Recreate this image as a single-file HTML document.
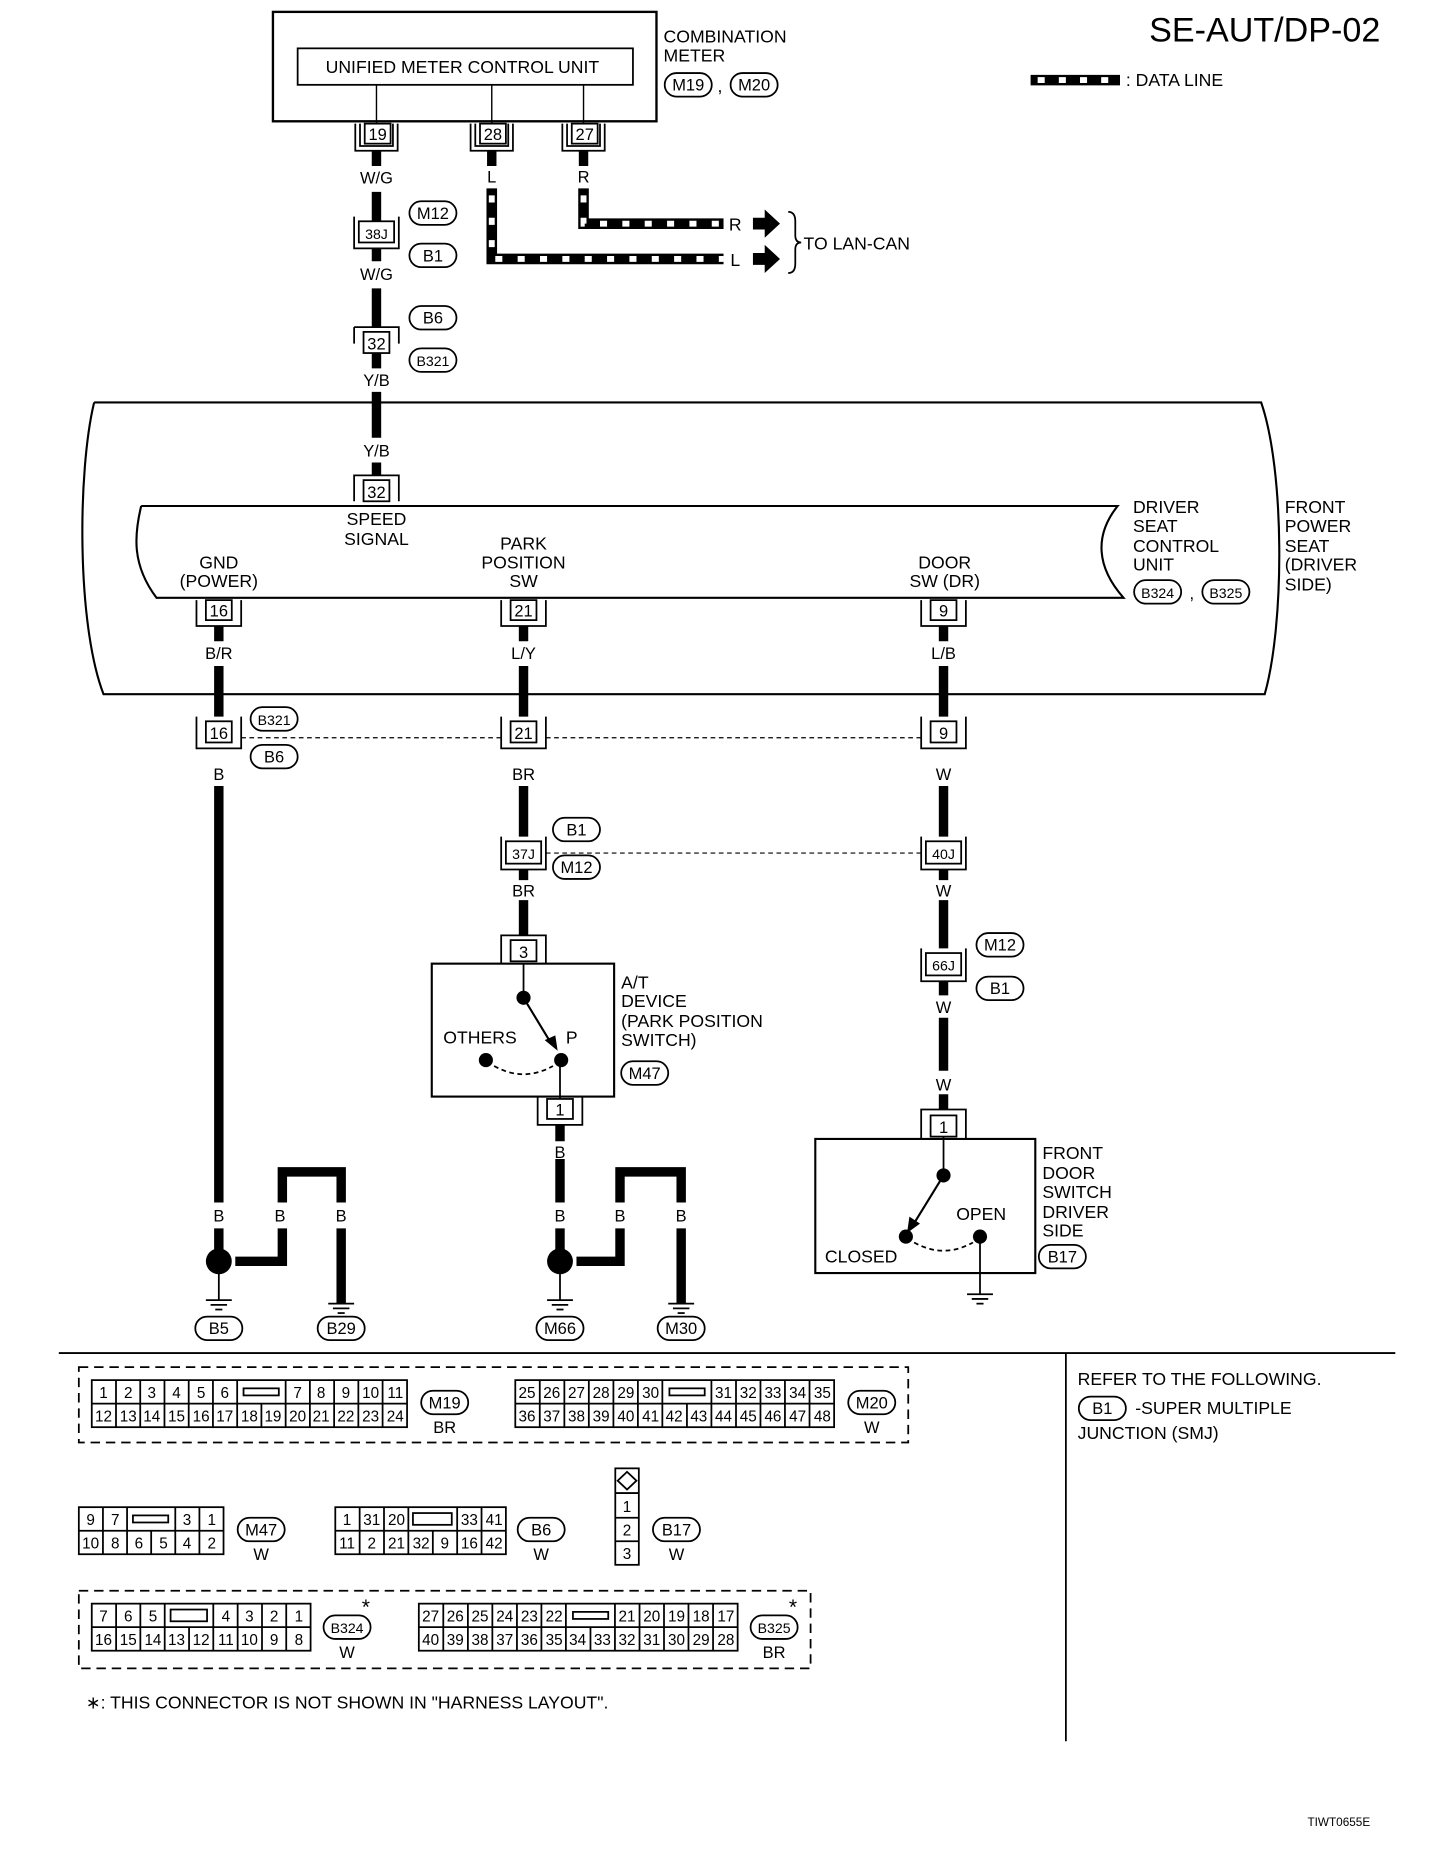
<!DOCTYPE html>
<html><head><meta charset="utf-8"><style>
html,body{margin:0;padding:0;background:#fff}
svg{display:block}
text{font-family:"Liberation Sans",sans-serif;fill:#000}
</style></head><body>
<svg width="1440" height="1852" viewBox="0 0 1224 1574" xmlns="http://www.w3.org/2000/svg">
<defs>
<g id="gnd"><line x1="-11" y1="0" x2="11" y2="0" stroke="#000" stroke-width="1.5"/><line x1="-7" y1="4" x2="7" y2="4" stroke="#000" stroke-width="1.5"/><line x1="-3" y1="8" x2="3" y2="8" stroke="#000" stroke-width="1.5"/></g>
</defs>
<g font-size="15" text-anchor="middle">
<text x="1075" y="35" font-size="29">SE-AUT/DP-02</text>
<line x1="876" y1="68" x2="952" y2="68" stroke="#000" stroke-width="9"/>
<line x1="882" y1="68" x2="952" y2="68" stroke="#fff" stroke-width="5" stroke-dasharray="6 12"/>
<text x="957" y="73" text-anchor="start" font-size="15">: DATA LINE</text>

<rect x="232" y="10" width="326" height="93" fill="none" stroke="#000" stroke-width="2"/>
<rect x="253" y="41" width="285" height="31" fill="none" stroke="#000" stroke-width="1.5"/>
<text x="393" y="62" font-size="15">UNIFIED METER CONTROL UNIT</text>
<line x1="320" y1="72" x2="320" y2="105" stroke="#000" stroke-width="1.2"/>
<line x1="418" y1="72" x2="418" y2="105" stroke="#000" stroke-width="1.2"/>
<line x1="496" y1="72" x2="496" y2="105" stroke="#000" stroke-width="1.2"/>
<text x="564" y="36" text-anchor="start">COMBINATION</text>
<text x="564" y="52" text-anchor="start">METER</text>
<rect x="565" y="62" width="40" height="20" rx="10" fill="none" stroke="#000" stroke-width="1.5"/><text x="585" y="77" font-size="14">M19</text>
<text x="612" y="78">,</text>
<rect x="621" y="62" width="40" height="20" rx="10" fill="none" stroke="#000" stroke-width="1.5"/><text x="641" y="77" font-size="14">M20</text>

<g fill="none" stroke="#000" stroke-width="1.5">
<rect x="310" y="105" width="22" height="17"/><path d="M302 105V128H338V105M306 105V124H334V105"/>
<rect x="408" y="105" width="22" height="17"/><path d="M400 105V128H436V105M404 105V124H432V105"/>
<rect x="486" y="105" width="22" height="17"/><path d="M478 105V128H514V105M482 105V124H510V105"/>
<rect x="305" y="188" width="30" height="18"/><path d="M301 184V211H339V184"/>
<rect x="309" y="282" width="22" height="18"/><path d="M301 278H339V292M301 278V292"/>
<rect x="309" y="408" width="22" height="18"/><path d="M301 426V404H339V426"/>
<rect x="175" y="510" width="22" height="17"/><path d="M167 510V532H205V510"/>
<rect x="434" y="510" width="22" height="17"/><path d="M426 510V532H464V510"/>
<rect x="791" y="510" width="22" height="17"/><path d="M783 510V532H821V510"/>
<rect x="175" y="613" width="22" height="18"/><path d="M167 609V636H205V609"/>
<rect x="434" y="613" width="22" height="18"/><path d="M426 609V636H464V609"/>
<rect x="791" y="613" width="22" height="18"/><path d="M783 609V636H821V609"/>
<rect x="430" y="715" width="30" height="19"/><path d="M426 711V739H464V711"/>
<rect x="787" y="715" width="30" height="19"/><path d="M783 711V739H821V711"/>
<rect x="434" y="799" width="22" height="18"/><path d="M426 819V795H464V819"/>
<rect x="787" y="810" width="30" height="19"/><path d="M783 806V834H821V806"/>
<rect x="465" y="934" width="22" height="17"/><path d="M457 932V956H495V932"/>
<rect x="791" y="948" width="22" height="18"/><path d="M783 968V943H821V968"/>
</g>
<g font-size="14">
<text x="321" y="119">19</text><text x="419" y="119">28</text><text x="497" y="119">27</text>
<text x="320" y="203" font-size="12">38J</text>
<text x="320" y="297">32</text>
<text x="320" y="423">32</text>
<text x="186" y="524">16</text><text x="445" y="524">21</text><text x="802" y="524">9</text>
<text x="186" y="628">16</text><text x="445" y="628">21</text><text x="802" y="628">9</text>
<text x="445" y="730" font-size="12">37J</text><text x="802" y="730" font-size="12">40J</text>
<text x="445" y="814">3</text>
<text x="802" y="825" font-size="12">66J</text>
<text x="476" y="948">1</text>
<text x="802" y="963">1</text>
</g>

<g stroke="#000" stroke-width="8" fill="none">
<path d="M320 128V141M320 163V188M320 211V222M320 245V278M320 300V313M320 333V372M320 393V404"/>
<path d="M418 128V141M496 128V141"/>
<path d="M186 532V545M186 566V609M186 668V1022M186 1044V1062"/>
<path d="M445 532V545M445 566V609M445 668V711M445 739V748M445 765V795"/>
<path d="M802 532V545M802 566V609M802 668V711M802 739V748M802 765V806M802 834V846M802 865V910M802 930V943"/>
<path d="M476 956V970M476 985V1022M476 1044V1062"/>
<path d="M200 1072H240V1044M240 1022V996H290V1022M290 1044V1108"/>
<path d="M490 1072H527V1044M527 1022V996H579V1022M579 1044V1108"/>
</g>
<path d="M418 160V220H615M496 160V190H615" stroke="#000" stroke-width="9" fill="none"/>
<path d="M418 166V220H615M496 166V190H615" stroke="#fff" stroke-width="5" fill="none" stroke-dasharray="6 13"/>
<polygon points="640,185 650,185 650,178 663,190 650,202 650,195 640,195"/>
<polygon points="640,215 650,215 650,208 663,220 650,232 650,225 640,225"/>
<text x="625" y="196">R</text><text x="625" y="226">L</text>
<path d="M670 180Q676 180 676 188V200Q676 206 681 206Q676 206 676 212V224Q676 232 670 232" fill="none" stroke="#000" stroke-width="1.5"/>
<text x="683" y="212" text-anchor="start">TO LAN-CAN</text>

<g font-size="14">
<text x="320" y="156">W/G</text><text x="418" y="155">L</text><text x="496" y="155">R</text>
<text x="320" y="238">W/G</text><text x="320" y="328">Y/B</text><text x="320" y="388">Y/B</text>
<text x="186" y="560">B/R</text><text x="445" y="560">L/Y</text><text x="802" y="560">L/B</text>
<text x="186" y="663">B</text><text x="445" y="663">BR</text><text x="802" y="663">W</text>
<text x="445" y="762">BR</text><text x="802" y="762">W</text>
<text x="802" y="861">W</text><text x="802" y="927">W</text>
<text x="476" y="984">B</text>
<text x="186" y="1038">B</text><text x="238" y="1038">B</text><text x="290" y="1038">B</text>
<text x="476" y="1038">B</text><text x="527" y="1038">B</text><text x="579" y="1038">B</text>
</g>

<g fill="none" stroke="#000" stroke-width="1.5">
<rect x="348" y="171" width="40" height="20" rx="10"/><rect x="348" y="207" width="40" height="20" rx="10"/>
<rect x="348" y="260" width="40" height="20" rx="10"/><rect x="348" y="296" width="40" height="20" rx="10"/>
<rect x="964" y="493" width="40" height="20" rx="10"/><rect x="1022" y="493" width="40" height="20" rx="10"/>
<rect x="213" y="601" width="40" height="20" rx="10"/><rect x="213" y="633" width="40" height="20" rx="10"/>
<rect x="470" y="695" width="40" height="20" rx="10"/><rect x="470" y="727" width="40" height="20" rx="10"/>
<rect x="830" y="793" width="40" height="20" rx="10"/><rect x="830" y="830" width="40" height="20" rx="10"/>
<rect x="528" y="902" width="40" height="20" rx="10"/>
<rect x="883" y="1058" width="40" height="20" rx="10"/>
<rect x="166" y="1119" width="40" height="20" rx="10"/><rect x="270" y="1119" width="40" height="20" rx="10"/>
<rect x="456" y="1119" width="40" height="20" rx="10"/><rect x="559" y="1119" width="40" height="20" rx="10"/>
</g>
<g font-size="14">
<text x="368" y="186">M12</text><text x="368" y="222">B1</text>
<text x="368" y="275">B6</text><text x="368" y="311" font-size="12">B321</text>
<text x="984" y="508" font-size="12">B324</text><text x="1013" y="509">,</text><text x="1042" y="508" font-size="12">B325</text>
<text x="233" y="616" font-size="12">B321</text><text x="233" y="648">B6</text>
<text x="490" y="710">B1</text><text x="490" y="742">M12</text>
<text x="850" y="808">M12</text><text x="850" y="845">B1</text>
<text x="548" y="917">M47</text>
<text x="903" y="1073">B17</text>
<text x="186" y="1134">B5</text><text x="290" y="1134">B29</text>
<text x="476" y="1134">M66</text><text x="579" y="1134">M30</text>
</g>

<path d="M80 342H1072C1092 400 1092 530 1075 590H88C65 530 66 400 80 342" fill="none" stroke="#000" stroke-width="1.8"/>
<path d="M120 430H950C930 455 932 482 955 508H133C112 480 114 455 120 430" fill="none" stroke="#000" stroke-width="1.8"/>
<text x="320" y="446">SPEED</text><text x="320" y="463">SIGNAL</text>
<text x="186" y="483">GND</text><text x="186" y="499">(POWER)</text>
<text x="445" y="467">PARK</text><text x="445" y="483">POSITION</text><text x="445" y="499">SW</text>
<text x="803" y="483">DOOR</text><text x="803" y="499">SW (DR)</text>
<g text-anchor="start">
<text x="963" y="436">DRIVER</text><text x="963" y="452">SEAT</text><text x="963" y="469">CONTROL</text><text x="963" y="485">UNIT</text>
<text x="1092" y="436">FRONT</text><text x="1092" y="452">POWER</text><text x="1092" y="469">SEAT</text><text x="1092" y="485">(DRIVER</text><text x="1092" y="502"> SIDE)</text>
</g>
<path d="M205 627H426M464 627H783M464 725H783" stroke="#000" stroke-width="1" stroke-dasharray="4 3" fill="none"/>

<rect x="367" y="819" width="155" height="113" fill="none" stroke="#000" stroke-width="1.8"/>
<line x1="445" y1="819" x2="445" y2="848" stroke="#000" stroke-width="1.5"/>
<circle cx="445" cy="848" r="6"/>
<line x1="445" y1="848" x2="468" y2="886" stroke="#000" stroke-width="1.8"/>
<polygon points="463,884 474,893 472,880"/>
<circle cx="477" cy="901" r="6"/><circle cx="413" cy="901" r="6"/>
<path d="M420 906Q445 920 470 906" fill="none" stroke="#000" stroke-width="1.5" stroke-dasharray="4 3"/>
<line x1="476" y1="901" x2="476" y2="934" stroke="#000" stroke-width="1.5"/>
<text x="408" y="887">OTHERS</text><text x="486" y="887">P</text>
<g text-anchor="start"><text x="528" y="840">A/T</text><text x="528" y="856">DEVICE</text><text x="528" y="873">(PARK POSITION</text><text x="528" y="889"> SWITCH)</text></g>

<rect x="693" y="968" width="187" height="114" fill="none" stroke="#000" stroke-width="1.8"/>
<line x1="802" y1="966" x2="802" y2="999" stroke="#000" stroke-width="1.5"/>
<circle cx="802" cy="999" r="6"/>
<line x1="802" y1="999" x2="778" y2="1038" stroke="#000" stroke-width="1.8"/>
<polygon points="773,1034 771,1048 782,1040"/>
<circle cx="770" cy="1051" r="6"/><circle cx="833" cy="1051" r="6"/>
<path d="M777 1056Q802 1070 827 1056" fill="none" stroke="#000" stroke-width="1.5" stroke-dasharray="4 3"/>
<line x1="833" y1="1051" x2="833" y2="1100" stroke="#000" stroke-width="1.5"/>
<use href="#gnd" x="833" y="1100"/>
<text x="834" y="1037">OPEN</text>
<text x="732" y="1073">CLOSED</text>
<g text-anchor="start"><text x="886" y="985">FRONT</text><text x="886" y="1002">DOOR</text><text x="886" y="1018">SWITCH</text><text x="886" y="1035">DRIVER</text><text x="886" y="1051">SIDE</text></g>

<circle cx="186" cy="1072" r="11"/><circle cx="476" cy="1072" r="11"/>
<line x1="186" y1="1072" x2="186" y2="1105" stroke="#000" stroke-width="1.5"/>
<line x1="476" y1="1072" x2="476" y2="1105" stroke="#000" stroke-width="1.5"/>
<use href="#gnd" x="186" y="1105"/><use href="#gnd" x="290" y="1108"/>
<use href="#gnd" x="476" y="1105"/><use href="#gnd" x="579" y="1108"/>

<line x1="50" y1="1150" x2="1186" y2="1150" stroke="#000" stroke-width="1.5"/>
<line x1="906" y1="1150" x2="906" y2="1480" stroke="#000" stroke-width="1.5"/>
<text x="916" y="1177" text-anchor="start">REFER TO THE FOLLOWING.</text>
<rect x="917" y="1187" width="40" height="20" rx="10" fill="none" stroke="#000" stroke-width="1.5"/><text x="937" y="1202" font-size="14">B1</text>
<text x="965" y="1202" text-anchor="start">-SUPER MULTIPLE</text>
<text x="916" y="1223" text-anchor="start">JUNCTION (SMJ)</text>

<rect x="67" y="1162" width="705" height="64" fill="none" stroke="#000" stroke-width="1.5" stroke-dasharray="8 5"/>
<rect x="67" y="1352" width="622" height="66" fill="none" stroke="#000" stroke-width="1.5" stroke-dasharray="8 5"/>
<g fill="none" stroke="#000" stroke-width="1.5">
<rect x="78" y="1173" width="268" height="40"/><line x1="78" y1="1193" x2="346" y2="1193"/>
<path d="M98.6 1173V1213M119.2 1173V1213M139.8 1173V1213M160.4 1173V1213M181 1173V1213M201.6 1173V1213M222.2 1193V1213M242.8 1173V1213M263.4 1173V1213M284 1173V1213M304.6 1173V1213M325.2 1173V1213"/>
<rect x="207" y="1180" width="30" height="6"/>
<rect x="438" y="1173" width="271" height="40"/><line x1="438" y1="1193" x2="709" y2="1193"/>
<path d="M458.8 1173V1213M479.7 1173V1213M500.5 1173V1213M521.4 1173V1213M542.2 1173V1213M563 1173V1213M583.9 1193V1213M604.7 1173V1213M625.6 1173V1213M646.4 1173V1213M667.2 1173V1213M688.1 1173V1213"/>
<rect x="569" y="1180" width="30" height="6"/>
<rect x="67" y="1281" width="123" height="40"/><line x1="67" y1="1301" x2="190" y2="1301"/>
<path d="M87.5 1281V1321M108 1281V1321M128.5 1301V1321M149 1281V1321M169.5 1281V1321"/>
<rect x="113" y="1288" width="30" height="6"/>
<rect x="285" y="1281" width="145" height="40"/><line x1="285" y1="1301" x2="430" y2="1301"/>
<path d="M305.7 1281V1321M326.4 1281V1321M347.1 1281V1321M367.9 1301V1321M388.6 1281V1321M409.3 1281V1321"/>
<rect x="351" y="1286" width="33" height="10"/>
<rect x="523" y="1248" width="20" height="82"/><path d="M523 1269H543M523 1290H543M523 1310H543"/>
<path d="M533 1251L541 1258.5L533 1266L525 1258.5Z"/>
<rect x="78" y="1363" width="186" height="40"/><line x1="78" y1="1383" x2="264" y2="1383"/>
<path d="M98.7 1363V1403M119.3 1363V1403M140 1363V1403M160.7 1383V1403M181.3 1363V1403M202 1363V1403M222.7 1363V1403M243.3 1363V1403"/>
<rect x="145" y="1368" width="31" height="10"/>
<rect x="356" y="1363" width="271" height="40"/><line x1="356" y1="1383" x2="627" y2="1383"/>
<path d="M376.8 1363V1403M397.7 1363V1403M418.5 1363V1403M439.4 1363V1403M460.2 1363V1403M481 1363V1403M501.9 1383V1403M522.7 1363V1403M543.6 1363V1403M564.4 1363V1403M585.2 1363V1403M606.1 1363V1403"/>
<rect x="487" y="1370" width="30" height="6"/>
<rect x="358" y="1182" width="40" height="20" rx="10"/><rect x="721" y="1182" width="40" height="20" rx="10"/>
<rect x="202" y="1290" width="40" height="20" rx="10"/><rect x="440" y="1290" width="40" height="20" rx="10"/><rect x="555" y="1290" width="40" height="20" rx="10"/>
<rect x="275" y="1373" width="40" height="20" rx="10"/><rect x="638" y="1373" width="40" height="20" rx="10"/>
</g>
<g font-size="13">
<text x="88" y="1188">1</text><text x="109" y="1188">2</text><text x="129" y="1188">3</text><text x="150" y="1188">4</text><text x="171" y="1188">5</text><text x="191" y="1188">6</text><text x="253" y="1188">7</text><text x="273" y="1188">8</text><text x="294" y="1188">9</text><text x="315" y="1188">10</text><text x="336" y="1188">11</text>
<text x="88" y="1208">12</text><text x="109" y="1208">13</text><text x="129" y="1208">14</text><text x="150" y="1208">15</text><text x="171" y="1208">16</text><text x="191" y="1208">17</text><text x="212" y="1208">18</text><text x="232" y="1208">19</text><text x="253" y="1208">20</text><text x="273" y="1208">21</text><text x="294" y="1208">22</text><text x="315" y="1208">23</text><text x="336" y="1208">24</text>
<text x="448" y="1188">25</text><text x="469" y="1188">26</text><text x="490" y="1188">27</text><text x="511" y="1188">28</text><text x="532" y="1188">29</text><text x="553" y="1188">30</text><text x="615" y="1188">31</text><text x="636" y="1188">32</text><text x="657" y="1188">33</text><text x="678" y="1188">34</text><text x="699" y="1188">35</text>
<text x="448" y="1208">36</text><text x="469" y="1208">37</text><text x="490" y="1208">38</text><text x="511" y="1208">39</text><text x="532" y="1208">40</text><text x="553" y="1208">41</text><text x="573" y="1208">42</text><text x="594" y="1208">43</text><text x="615" y="1208">44</text><text x="636" y="1208">45</text><text x="657" y="1208">46</text><text x="678" y="1208">47</text><text x="699" y="1208">48</text>
<text x="77" y="1296">9</text><text x="98" y="1296">7</text><text x="159" y="1296">3</text><text x="180" y="1296">1</text>
<text x="77" y="1316">10</text><text x="98" y="1316">8</text><text x="118" y="1316">6</text><text x="139" y="1316">5</text><text x="159" y="1316">4</text><text x="180" y="1316">2</text>
<text x="295" y="1296">1</text><text x="316" y="1296">31</text><text x="337" y="1296">20</text><text x="399" y="1296">33</text><text x="420" y="1296">41</text>
<text x="295" y="1316">11</text><text x="316" y="1316">2</text><text x="337" y="1316">21</text><text x="358" y="1316">32</text><text x="378" y="1316">9</text><text x="399" y="1316">16</text><text x="420" y="1316">42</text>
<text x="533" y="1285">1</text><text x="533" y="1305">2</text><text x="533" y="1325">3</text>
<text x="88" y="1378">7</text><text x="109" y="1378">6</text><text x="130" y="1378">5</text><text x="192" y="1378">4</text><text x="212" y="1378">3</text><text x="233" y="1378">2</text><text x="254" y="1378">1</text>
<text x="88" y="1398">16</text><text x="109" y="1398">15</text><text x="130" y="1398">14</text><text x="150" y="1398">13</text><text x="171" y="1398">12</text><text x="192" y="1398">11</text><text x="212" y="1398">10</text><text x="233" y="1398">9</text><text x="254" y="1398">8</text>
<text x="366" y="1378">27</text><text x="387" y="1378">26</text><text x="408" y="1378">25</text><text x="429" y="1378">24</text><text x="450" y="1378">23</text><text x="471" y="1378">22</text><text x="533" y="1378">21</text><text x="554" y="1378">20</text><text x="575" y="1378">19</text><text x="596" y="1378">18</text><text x="617" y="1378">17</text>
<text x="366" y="1398">40</text><text x="387" y="1398">39</text><text x="408" y="1398">38</text><text x="429" y="1398">37</text><text x="450" y="1398">36</text><text x="471" y="1398">35</text><text x="491" y="1398">34</text><text x="512" y="1398">33</text><text x="533" y="1398">32</text><text x="554" y="1398">31</text><text x="575" y="1398">30</text><text x="596" y="1398">29</text><text x="617" y="1398">28</text>
</g>
<g font-size="14">
<text x="378" y="1197">M19</text><text x="378" y="1218">BR</text>
<text x="741" y="1197">M20</text><text x="741" y="1218">W</text>
<text x="222" y="1305">M47</text><text x="222" y="1326">W</text>
<text x="460" y="1305">B6</text><text x="460" y="1326">W</text>
<text x="575" y="1305">B17</text><text x="575" y="1326">W</text>
<text x="295" y="1388" font-size="12">B324</text><text x="295" y="1409">W</text><text x="311" y="1372" font-size="18">*</text>
<text x="658" y="1388" font-size="12">B325</text><text x="658" y="1409">BR</text><text x="674" y="1372" font-size="18">*</text>
</g>
<text x="73" y="1452" text-anchor="start">∗: THIS CONNECTOR IS NOT SHOWN IN "HARNESS LAYOUT".</text>
<text x="1138" y="1552" font-size="10">TIWT0655E</text>
</g>
</svg>
</body></html>
